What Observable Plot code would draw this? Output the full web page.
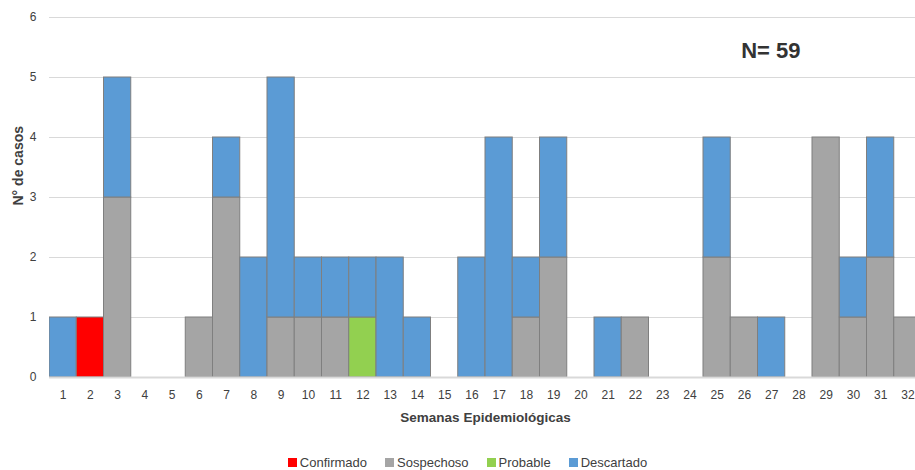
<!DOCTYPE html>
<html>
<head>
<meta charset="utf-8">
<script src="https://cdn.jsdelivr.net/npm/d3@7"></script>
<script src="https://cdn.jsdelivr.net/npm/@observablehq/plot@0.6"></script>
<style>
  html, body { margin: 0; padding: 0; background: #fff; overflow: hidden; }
  body { width: 915px; font-family: "Liberation Sans", Arial, sans-serif; }
  #legend { display: flex; justify-content: center; gap: 18px; font-size: 13px; color: #404040; height: 20px; align-items: center; margin-left: 20px; }
  #legend span.item { display: inline-flex; align-items: center; gap: 3px; }
  #legend span.sw { width: 9px; height: 9px; display: inline-block; }
</style>
</head>
<body>
<div id="chart"></div>
<div id="legend"></div>
<script>
const weeks = d3.range(1, 33);
const categories = ["Confirmado", "Sospechoso", "Probable", "Descartado"];
const colors = ["#ff0000", "#a5a5a5", "#92d050", "#5b9bd5"];
//                 1 2 3 4 5 6 7 8 9 10 11 12 13 14 15 16 17 18 19 20 21 22 23 24 25 26 27 28 29 30 31 32
const confirmado = [0,1,0,0,0,0,0,0,0,0, 0, 0, 0, 0, 0, 0, 0, 0, 0, 0, 0, 0, 0, 0, 0, 0, 0, 0, 0, 0, 0, 0];
const sospechoso = [0,0,3,0,0,1,3,0,1,1, 1, 0, 0, 0, 0, 0, 0, 1, 2, 0, 0, 1, 0, 0, 2, 1, 0, 0, 4, 1, 2, 1];
const probable   = [0,0,0,0,0,0,0,0,0,0, 0, 1, 0, 0, 0, 0, 0, 0, 0, 0, 0, 0, 0, 0, 0, 0, 0, 0, 0, 0, 0, 0];
const descartado = [1,0,2,0,0,0,1,2,4,1, 1, 1, 2, 1, 0, 2, 4, 1, 2, 0, 1, 0, 0, 0, 2, 0, 1, 0, 0, 1, 2, 0];
const yTicks = [0, 1, 2, 3, 4, 5, 6];

const series = [confirmado, sospechoso, probable, descartado];
const data = [];
weeks.forEach((w, i) => {
  categories.forEach((c, k) => {
    if (series[k][i] > 0) data.push({week: w, estado: c, casos: series[k][i]});
  });
});
const total = d3.sum(data, d => d.casos);

const chart = Plot.plot({
  width: 915,
  height: 452,
  marginLeft: 49,
  marginRight: 0,
  marginTop: 17,
  marginBottom: 75,
  style: {fontFamily: "Liberation Sans, Arial, sans-serif", fontSize: "12px", color: "#404040", overflow: "hidden"},
  x: {domain: weeks, range: [49, 921], padding: 0, round: false, label: null},
  y: {domain: [0, 6], label: null},
  color: {domain: categories, range: colors},
  marks: [
    Plot.gridY(yTicks, {stroke: "#d9d9d9", strokeOpacity: 1, strokeWidth: 1.2}),
    Plot.barY(data, Plot.stackY({
      x: "week", y: "casos", fill: "estado", order: categories,
      stroke: "#7f7f7f", strokeWidth: 1, inset: 0, clip: true
    })),
    Plot.ruleY([0], {stroke: "#d9d9d9", strokeWidth: 2}),
    Plot.axisY(yTicks, {tickSize: 0, tickPadding: 13, fontSize: 12, fill: "#404040", tickFormat: d => d}),
    Plot.axisX(weeks, {tickSize: 0, tickPadding: 13, fontSize: 12, fill: "#404040"}),
    Plot.text(["N° de casos"], {frameAnchor: "left", dx: -31, dy: 8, rotate: -90, fontWeight: "bold", fontSize: 14, fill: "#404040"}),
    Plot.text(["Semanas Epidemiológicas"], {frameAnchor: "bottom", dy: 44, fontWeight: "bold", fontSize: 13.5, fill: "#404040", dx: 3}),
    Plot.text([`N= ${total}`], {frameAnchor: "top-right", dx: -115, dy: 33, textAnchor: "end", lineAnchor: "middle", fontWeight: "bold", fontSize: 22, fill: "#333", letterSpacing: "-1px"})
  ]
});
document.getElementById("chart").appendChild(chart);

const legend = document.getElementById("legend");
categories.forEach((c, k) => {
  const item = document.createElement("span");
  item.className = "item";
  const sw = document.createElement("span");
  sw.className = "sw";
  sw.style.background = colors[k];
  item.appendChild(sw);
  item.appendChild(document.createTextNode(c));
  legend.appendChild(item);
});
</script>
</body>
</html>
